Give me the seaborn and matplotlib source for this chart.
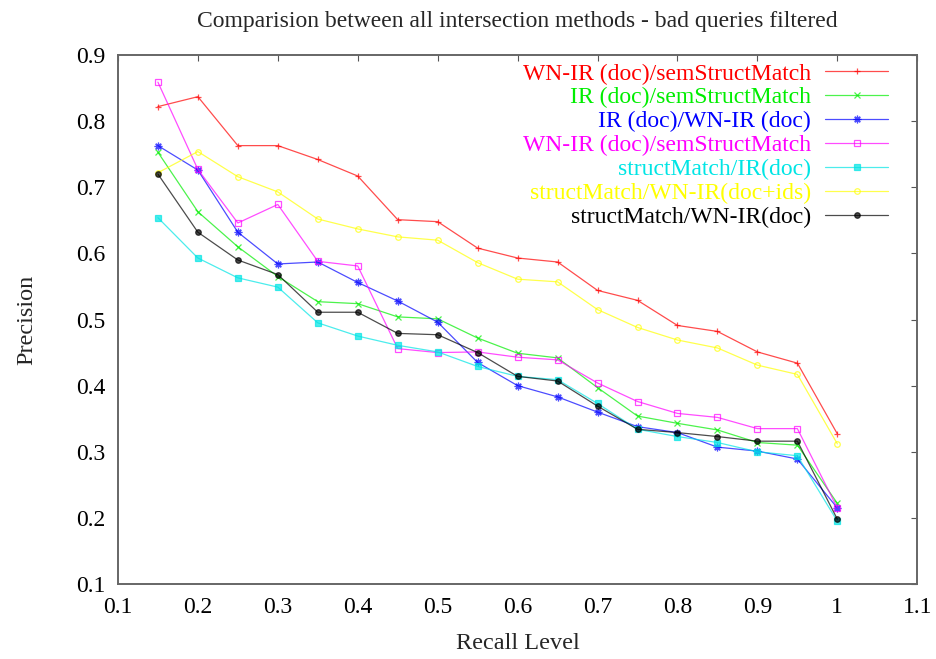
import pandas as pd
import matplotlib
matplotlib.use("Agg")
import matplotlib.pyplot as plt
import seaborn as sns

recall = [0.15, 0.2, 0.25, 0.3, 0.35, 0.4, 0.45, 0.5, 0.55, 0.6,
          0.65, 0.7, 0.75, 0.8, 0.85, 0.9, 0.95, 1.0]

wnir_sem = [0.822, 0.837, 0.763, 0.763, 0.742, 0.717, 0.651, 0.648, 0.608, 0.593,
            0.587, 0.544, 0.529, 0.491, 0.482, 0.451, 0.434, 0.327]
ir_sem = [0.753, 0.663, 0.610, 0.565, 0.527, 0.524, 0.504, 0.501, 0.472, 0.449,
          0.442, 0.397, 0.354, 0.343, 0.333, 0.314, 0.310, 0.222]
ir_wnir = [0.763, 0.726, 0.632, 0.584, 0.587, 0.556, 0.528, 0.496, 0.435, 0.400,
           0.383, 0.360, 0.338, 0.329, 0.307, 0.301, 0.289, 0.215]
wnir_sem2 = [0.859, 0.727, 0.646, 0.674, 0.588, 0.581, 0.456, 0.450, 0.451, 0.443,
             0.439, 0.404, 0.376, 0.358, 0.352, 0.335, 0.335, 0.215]
sm_ir = [0.654, 0.593, 0.563, 0.549, 0.495, 0.475, 0.461, 0.451, 0.429, 0.414,
         0.409, 0.373, 0.334, 0.323, 0.314, 0.300, 0.294, 0.195]
sm_wnir_ids = [0.722, 0.754, 0.716, 0.693, 0.652, 0.637, 0.625, 0.620, 0.586, 0.561,
               0.557, 0.515, 0.488, 0.469, 0.457, 0.431, 0.417, 0.312]
sm_wnir = [0.720, 0.632, 0.590, 0.568, 0.511, 0.511, 0.479, 0.477, 0.450, 0.414,
           0.407, 0.369, 0.334, 0.329, 0.323, 0.316, 0.316, 0.198]

labels = ["WN-IR (doc)/semStructMatch", "IR (doc)/semStructMatch", "IR (doc)/WN-IR (doc)",
          "WN-IR (doc)/semStructMatch", "structMatch/IR(doc)", "structMatch/WN-IR(doc+ids)",
          "structMatch/WN-IR(doc)"]
series = [wnir_sem, ir_sem, ir_wnir, wnir_sem2, sm_ir, sm_wnir_ids, sm_wnir]
colors = ["#ff0000", "#00ee00", "#0000ff", "#ff00ff", "#00e5e5", "#ffff00", "#000000"]
markers = ["+", "x", (8, 2, 0), "s", "s", "o", "o"]
msizes = [4.5, 4, 5.5, 4, 4, 4, 4]
filled = [True, True, True, False, True, False, True]

sns.set_style("white")
plt.rcParams['font.family'] = ['Liberation Serif', 'DejaVu Serif']

fig, ax = plt.subplots(figsize=(9.36, 6.59), dpi=100)
fig.subplots_adjust(left=0.126, right=0.980, top=0.9165, bottom=0.1138)

handles = []
for lab, vals, c, m, ms, f in zip(labels, series, colors, markers, msizes, filled):
    df = pd.DataFrame({"recall": recall, "precision": vals})
    sns.lineplot(data=df, x="recall", y="precision", ax=ax, color=c, marker=m,
                 markersize=ms, linewidth=0.9, alpha=0.7,
                 markerfacecolor=c if f else "none", markeredgecolor=c,
                 markeredgewidth=0.9)
    handles.append(ax.lines[-1])

ax.set_xlim(0.1, 1.1)
ax.set_ylim(0.1, 0.9)
ax.set_xticks([0.1, 0.2, 0.3, 0.4, 0.5, 0.6, 0.7, 0.8, 0.9, 1.0, 1.1])
ax.set_xticklabels(["0.1", "0.2", "0.3", "0.4", "0.5", "0.6", "0.7", "0.8", "0.9", "1", "1.1"])
ax.set_yticks([0.1, 0.2, 0.3, 0.4, 0.5, 0.6, 0.7, 0.8, 0.9])
ax.tick_params(direction="in", top=True, right=True, length=4, width=0.8,
               labelsize=17, colors="#555555", labelcolor="black", pad=9)
for s in ax.spines.values():
    s.set_color("#666666")
    s.set_linewidth(1.4)

ax.set_xlabel("Recall Level", fontsize=17.5, labelpad=11)
ax.set_ylabel("Precision", fontsize=17.5, labelpad=28)
ax.set_title("Comparision between all intersection methods - bad queries filtered",
             fontsize=17, pad=20)

leg = ax.legend(handles, labels, loc="upper right", bbox_to_anchor=(1 - 29 / 799, 1 - 8 / 529),
                frameon=False, markerfirst=False, fontsize=17, borderpad=0,
                borderaxespad=0, handlelength=2.67, labelspacing=0.1,
                handletextpad=0.6)
for t, c in zip(leg.get_texts(), colors):
    t.set_color(c)
    t.set_ha("right")
leg._legend_box.align = "right"

fig.savefig("out.png", dpi=100)
